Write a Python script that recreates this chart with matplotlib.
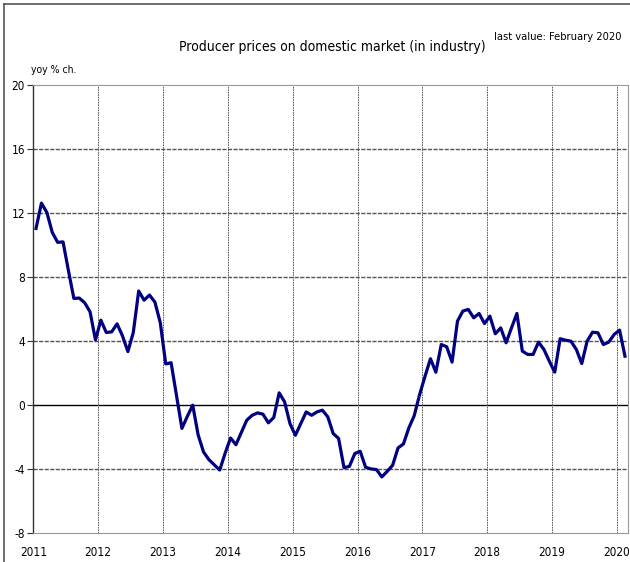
import numpy as np
import matplotlib
matplotlib.use('Agg')
import matplotlib.pyplot as plt
from matplotlib.lines import Line2D

plt.rcParams['font.family'] = ['DejaVu Sans']
plt.rcParams['font.stretch'] = 'condensed'		# narrow face like the original

# Monthly yoy % change, Jan 2011 - Feb 2020
y2011 = [11.04, 12.62, 12.04, 10.8, 10.17, 10.2, 8.4, 6.67, 6.69, 6.4, 5.83, 4.08]
y2012 = [5.31, 4.54, 4.58, 5.08, 4.33, 3.35, 4.54, 7.13, 6.56, 6.88, 6.44, 5.15]
y2013 = [2.58, 2.65, 0.6, -1.45, -0.7, 0.0, -1.85, -2.92, -3.4, -3.73, -4.05, -3.0]
y2014 = [-2.05, -2.47, -1.7, -0.94, -0.63, -0.48, -0.56, -1.1, -0.77, 0.77, 0.21, -1.15]
y2015 = [-1.88, -1.15, -0.42, -0.63, -0.42, -0.31, -0.73, -1.77, -2.08, -3.9, -3.82, -3.02]
y2016 = [-2.88, -3.88, -3.98, -4.02, -4.48, -4.13, -3.75, -2.67, -2.42, -1.42, -0.65, 0.67]
y2017 = [1.81, 2.9, 2.06, 3.79, 3.65, 2.69, 5.25, 5.88, 5.98, 5.46, 5.73, 5.1]
y2018 = [5.56, 4.46, 4.83, 3.9, 4.83, 5.73, 3.38, 3.17, 3.17, 3.94, 3.48, 2.75]
y2019 = [2.06, 4.15, 4.06, 4.0, 3.48, 2.6, 4.0, 4.56, 4.52, 3.79, 3.94, 4.42]
y2020 = [4.69, 3.06]

values = y2011 + y2012 + y2013 + y2014 + y2015 + y2016 + y2017 + y2018 + y2019 + y2020
years = list(range(2011, 2021))		# x tick labels
yticks = list(range(-8, 21, 4))

t = 2011 + (np.arange(len(values)) + 0.5) / 12.0		# mid-month positions

fig = plt.figure(figsize=(6.3, 5.62), dpi=100)
ax = fig.add_axes([0.0529, 0.0511, 0.9434, 0.7977])

# grid
for yv in yticks[1:-1]:
	if yv == 0:
		ax.axhline(yv, color='black', lw=1.0, zorder=1)
	else:
		ax.axhline(yv, color='#555555', lw=1.0, ls=(0, (3, 1)), zorder=1)
for xv in years[1:]:
	ax.axvline(xv, color='#444444', lw=0.6, ls=(0, (2, 1)), zorder=1)

ax.plot(t, values, color='#000080', lw=2.3, zorder=3)

ax.set_xlim(2011, 2020 + 2 / 12.0)
ax.set_ylim(-8, 20)
ax.set_yticks(yticks)
ax.set_yticklabels([str(v) for v in yticks], fontsize=8.5)
ax.set_xticks(years)
ax.set_xticklabels([str(v) for v in years], fontsize=8.5)
ax.tick_params(axis='y', direction='out', length=4, width=0.8, color='#333333', pad=2)
ax.tick_params(axis='x', length=0, pad=9)

for s in ['top', 'right', 'bottom']:
	ax.spines[s].set_color('#999999')
	ax.spines[s].set_linewidth(0.8)
ax.spines['left'].set_color('#333333')
ax.spines['left'].set_linewidth(1.0)

# texts
fig.text(332 / 630, 1 - 47 / 562, 'Producer prices on domestic market (in industry)', ha='center', va='center', fontsize=10)
fig.text(621 / 630, 1 - 37 / 562, 'last value: February 2020', ha='right', va='center', fontsize=8)
fig.text(31 / 630, 1 - 70 / 562, 'yoy % ch.', ha='left', va='center', fontsize=7.5)

# outer frame, only top and left visible in the crop
fig.add_artist(Line2D([3.5 / 630, 3.5 / 630], [0, 1 - 3.5 / 562], color='#555555', lw=1.2, transform=fig.transFigure))
fig.add_artist(Line2D([3.5 / 630, 1], [1 - 3.5 / 562, 1 - 3.5 / 562], color='#555555', lw=1.2, transform=fig.transFigure))

fig.savefig('out.png', dpi=100)
